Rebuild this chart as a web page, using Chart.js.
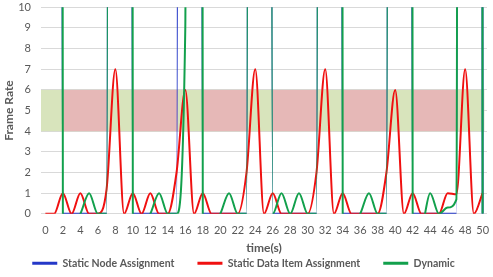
<!DOCTYPE html>
<html>
<head>
<meta charset="utf-8">
<script src="https://cdn.jsdelivr.net/npm/chart.js@4"></script>
<style>
  html, body { margin: 0; padding: 0; background: #ffffff; }
  #c { display: block; }
</style>
</head>
<body>
<canvas id="c" width="493" height="277"></canvas>
<script>
// ---- data ----
const timeSec = [0,1,2,3,4,5,6,7,8,9,10,11,12,13,14,15,16,17,18,19,20,21,22,23,24,25,26,27,28,29,30,31,32,33,34,35,36,37,38,39,40,41,42,43,44,45,46,47,48,49,50];

// Static Node Assignment (blue): values far above the axis maximum show as vertical spikes
const staticNode = [500,500,0,0,0,0,0,0,500,500, 0,0,0,0,0,0,500,500,0,0, 0,0,0,0,500,500,0,0,0,0, 0,0,500,500,0,0,0,0,0,0, 500,500,0,0,0,0,0,0,500,500,0];

// Static Data Item Assignment (red)
const staticDataItem = [0,0,1,0,1,0,0,1.2,7,0, 1,0,1,0,0,2,6,0,1,0, 0,0,0,2,7,0,1,0,0,0, 0,2,7,0,1,0,0,0,0,2, 6,0,1,0,0,0,1,0.95,7,0,1];

// Dynamic (green)
const dynamicRate = [500,500,0,-0.6,0,1,0,0,500,500, 0,-0.6,0,1,0,0,9,500,0,-0.6, 0,1,0,0,500,500,0,1,0,1, 0,0,500,500,0,-0.6,0,1,0,0, 500,500,0,-0.6,1,0,0.3,0.7,500,500,0];

// target frame-rate band and the periods marked red inside it
const bandLow = 4;
const bandHigh = 6;
const bandSpan = [-0.5, 50.2];
const redPeriods = [[2.0, 7.05], [9.9, 15.15], [17.95, 23.12], [26.0, 31.12], [34.0, 39.12], [42.0, 47.15]];

const seriesNames = ['Static Node Assignment', 'Static Data Item Assignment', 'Dynamic'];

// ---- styles ----
const COL_BLUE = '#2438c8';
const COL_RED = '#f01010';
const COL_GREEN = '#12a04c';
const COL_BAND_OK = '#d8e4bc';
const COL_BAND_BAD = '#e6b8b7';
const TXT = '#595959';
const FONT = 'Lato, "Open Sans", sans-serif';

const toXY = arr => timeSec.map((t, i) => ({ x: t, y: arr[i] }));

const bandPlugin = {
  id: 'frameBand',
  beforeDatasetsDraw(chart) {
    const { ctx, chartArea, scales } = chart;
    const x = scales.x, y = scales.y;
    const yTop = y.getPixelForValue(bandHigh);
    const yBot = y.getPixelForValue(bandLow);
    ctx.save();
    ctx.beginPath();
    ctx.rect(chartArea.left, chartArea.top, chartArea.right - chartArea.left, chartArea.bottom - chartArea.top);
    ctx.clip();
    ctx.fillStyle = COL_BAND_OK;
    const a = x.getPixelForValue(bandSpan[0]), b = x.getPixelForValue(bandSpan[1]);
    ctx.fillRect(a, yTop, b - a, yBot - yTop);
    ctx.fillStyle = COL_BAND_BAD;
    redPeriods.forEach(([s, e]) => {
      const p = x.getPixelForValue(s), q = x.getPixelForValue(e);
      ctx.fillRect(p, yTop, q - p, yBot - yTop);
    });
    ctx.restore();
  }
};

const lineDs = (label, arr, color) => ({
  label,
  data: toXY(arr),
  borderColor: color,
  backgroundColor: color,
  borderWidth: 2,
  pointRadius: 0,
  pointHoverRadius: 0,
  fill: false,
  cubicInterpolationMode: 'monotone'
});

new Chart(document.getElementById('c'), {
  type: 'line',
  data: {
    // first dataset is drawn on top; legend reversed to keep the original order
    datasets: [
      lineDs(seriesNames[2], dynamicRate, COL_GREEN),
      lineDs(seriesNames[1], staticDataItem, COL_RED),
      lineDs(seriesNames[0], staticNode, COL_BLUE)
    ]
  },
  plugins: [bandPlugin],
  options: {
    responsive: false,
    animation: false,
    devicePixelRatio: 1,
    elements: { line: { capBezierPoints: false } },
    layout: { padding: { top: 7.3, right: 6, bottom: -1.5, left: 0 } },
    plugins: {
      tooltip: { enabled: false },
      legend: {
        position: 'bottom',
        reverse: true,
        labels: {
          boxWidth: 25,
          boxHeight: 3,
          padding: 23,
          color: TXT,
          font: { family: FONT, size: 10.5, weight: 'bold' },
          generateLabels: chart => Chart.defaults.plugins.legend.labels.generateLabels(chart)
            .map(l => Object.assign(l, { fillStyle: l.strokeStyle, lineWidth: 0 }))
        }
      }
    },
    scales: {
      x: {
        type: 'linear',
        min: -0.5,
        max: 50.5,
        grid: { display: false, drawTicks: true, tickLength: 10 },
        border: { display: false },
        ticks: {
          stepSize: 2,
          includeBounds: false,
          autoSkip: false,
          maxRotation: 0,
          padding: 0,
          color: TXT,
          font: { family: FONT, size: 11 }
        },
        title: {
          display: true,
          text: 'time(s)',
          color: TXT,
          font: { family: FONT, size: 12, weight: 'bold' },
          padding: { top: 0, bottom: -20.7 }
        },
        afterFit: s => { s.height = 21.2; s.paddingLeft = 0; s.paddingRight = 0; }
      },
      y: {
        min: 0,
        max: 10,
        grid: { color: '#d9d9d9', lineWidth: 1, drawTicks: false },
        border: { display: false },
        ticks: {
          stepSize: 1,
          padding: 10,
          color: TXT,
          font: { family: FONT, size: 11 }
        },
        title: {
          display: true,
          text: 'Frame Rate',
          color: TXT,
          font: { family: FONT, size: 12, weight: 'bold' },
          padding: { top: 1.8, bottom: 0 }
        },
        afterFit: s => { s.width = 41; s.paddingTop = 0; s.paddingBottom = 0; }
      }
    }
  }
});
</script>
</body>
</html>
